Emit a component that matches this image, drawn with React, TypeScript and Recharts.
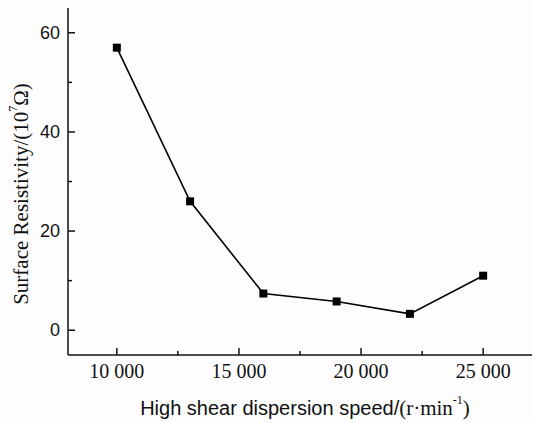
import { LineChart, Line, XAxis, YAxis } from "recharts"

const speeds = [10000, 13000, 16000, 19000, 22000, 25000]
const resistivity = [57, 26, 7.4, 5.8, 3.3, 11]
const xTicks = [10000, 12500, 15000, 17500, 20000, 22500, 25000]
const yTicks = [0, 10, 20, 30, 40, 50, 60]

const data = speeds.map((s, i) => ({ speed: s, value: resistivity[i] }))

const fmtSpeed = (v: number) => {
  const th = Math.floor(v / 1000)
  return `${th} 000`
}

const XTick = (props: any) => {
  const { x, y, payload } = props
  const major = payload.value % 5000 === 0
  return (
    <g>
      <line x1={x} x2={x} y1={y} y2={y - (major ? 7 : 4)} stroke="#111" strokeWidth={1.5} />
      {major && (
        <text x={x} y={y + 16} textAnchor="middle" dominantBaseline="central"
          fontFamily="Liberation Serif" fontSize={20} fill="#111">
          {fmtSpeed(payload.value)}
        </text>
      )}
    </g>
  )
}

const YTick = (props: any) => {
  const { x, y, payload } = props
  const major = payload.value % 20 === 0
  return (
    <g>
      <line x1={x} x2={x + (major ? 7 : 4)} y1={y} y2={y} stroke="#111" strokeWidth={1.5} />
      {major && (
        <text x={x - 8} y={y} textAnchor="end" dominantBaseline="central"
          fontFamily="Liberation Sans" fontSize={18} fill="#111">
          {payload.value}
        </text>
      )}
    </g>
  )
}

const SquareDot = (props: any) => {
  const { cx, cy, index } = props
  if (cx == null || cy == null) return <g key={index} />
  return <rect key={index} x={cx - 4} y={cy - 4} width={8} height={8} fill="#000" />
}

// x title mixes a sans part and a serif unit, so it is drawn by hand
const XLabel = (props: any) => {
  const { viewBox } = props
  const cx = viewBox.x + viewBox.width / 2 + 5
  return (
    <text x={cx} y={408} textAnchor="middle" dominantBaseline="central" fill="#111" fontSize={20}>
      <tspan fontFamily="Liberation Sans">High shear dispersion speed/</tspan>
      <tspan fontFamily="Liberation Serif" fontSize={21}>(r·min</tspan>
      <tspan fontFamily="Liberation Serif" fontSize={12} dy={-8}>-1</tspan>
      <tspan fontFamily="Liberation Serif" fontSize={21} dy={8}>)</tspan>
    </text>
  )
}

const YLabel = () => {
  const cx = 21
  const cy = 194
  return (
    <text x={cx} y={cy} transform={`rotate(-90 ${cx} ${cy})`} textAnchor="middle"
      dominantBaseline="central" fontFamily="Liberation Serif" fontSize={21} fill="#111">
      Surface Resistivity/(10<tspan fontSize={12} dy={-8}>7</tspan><tspan dy={8}>Ω)</tspan>
    </text>
  )
}

export default function App() {
  return (
    <div style={{ position: "absolute", left: 0, top: 0, width: 533, height: 423, background: "#fdfdfd" }}>
      <LineChart width={533} height={423} data={data} margin={{ top: 8, right: 1, left: 0, bottom: 0 }}>
        <XAxis dataKey="speed" type="number" domain={[8000, 27000]} ticks={xTicks}
          height={68} tickSize={0} tickMargin={0} tickLine={false} tick={XTick}
          axisLine={{ stroke: "#111", strokeWidth: 1.5 }} interval={0} label={XLabel} />
        <XAxis xAxisId="top" orientation="top" dataKey="speed" type="number" domain={[8000, 27000]}
          height={0} tick={false} tickLine={false} axisLine={{ stroke: "#444", strokeWidth: 2 }} />
        <YAxis type="number" domain={[-5, 65]} ticks={yTicks} width={68} tickSize={0} tickMargin={0}
          tickLine={false} tick={YTick} axisLine={{ stroke: "#111", strokeWidth: 1.5 }} interval={0}
          label={YLabel} />
        <YAxis yAxisId="right" orientation="right" type="number" domain={[-5, 65]} width={0}
          tick={false} tickLine={false} axisLine={{ stroke: "#999", strokeWidth: 1 }} />
        <Line dataKey="value" stroke="#000" strokeWidth={1.6} dot={SquareDot}
          isAnimationActive={false} />
      </LineChart>
    </div>
  )
}
